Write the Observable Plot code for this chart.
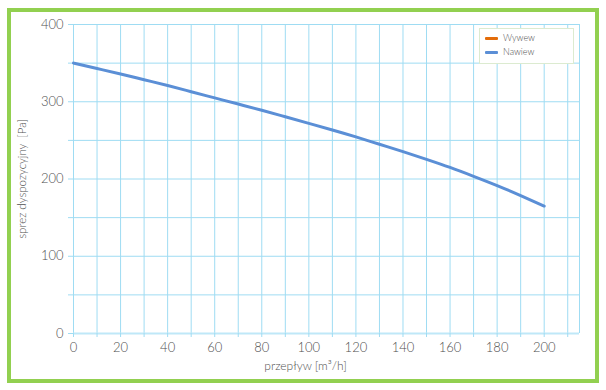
<!DOCTYPE html>
<html>
<head>
<meta charset="utf-8">
<script src="https://cdn.jsdelivr.net/npm/d3@7"></script>
<script src="https://cdn.jsdelivr.net/npm/@observablehq/plot@0.6"></script>
<style>
  html, body { margin: 0; padding: 0; background: #fff; }
  #wrap { position: relative; width: 606px; height: 390px; overflow: hidden; }
  #border { position: absolute; left: 7px; top: 8px; width: 584px; height: 367px; border: 4px solid #92d050; pointer-events: none; }
  #legend { position: absolute; left: 479px; top: 28px; width: 93px; height: 34px; background: #fff; border: 1px solid #dcebd0;
            font-family: Lato, Roboto, sans-serif; font-weight: 300; font-size: 9px; color: #555; }
  .item { position: absolute; left: 5px; height: 12px; line-height: 12px; }
  .sw { display: inline-block; width: 13px; height: 3px; vertical-align: middle; margin-right: 5px; border-radius: 1px; }
  svg text { font-weight: 300; }
</style>
</head>
<body>
<div id="wrap"></div>
<script>
// Data
const flow = [0, 10, 20, 30, 40, 50, 60, 70, 80, 90, 100, 110, 120, 130, 140, 150, 160, 170, 180, 190, 200];
const nawiew = [350, 343, 336, 328.5, 321, 313, 305, 297, 289, 280.5, 272, 263.5, 254.5, 245, 235.5, 225.5, 215, 203.5, 191.5, 178.5, 165];
const seriesNames = ["Wywew", "Nawiew"];
const seriesColors = ["#e36c0a", "#5b8fd6"];
const xTicks = [0, 20, 40, 60, 80, 100, 120, 140, 160, 180, 200];
const xGrid = [0, 10, 20, 30, 40, 50, 60, 70, 80, 90, 100, 110, 120, 130, 140, 150, 160, 170, 180, 190, 200, 210, 215];
const yTicks = [0, 100, 200, 300, 400];
const yGrid = [0, 50, 100, 150, 200, 250, 300, 350, 400];
const xLabel = "przepływ [m³/h]";
const yLabel = "sprez dyspozycyjny  [Pa]";

const data = flow.map((f, i) => ({flow: f, p: nawiew[i]}));
const gridColor = "#9fdcf3";
const font = "Lato, Roboto, sans-serif";
const textColor = "#505050";

const chart = Plot.plot({
  width: 606,
  height: 390,
  marginLeft: 73,
  marginRight: 27,
  marginTop: 24,
  marginBottom: 57,
  style: {fontFamily: font, fontSize: "13px", color: textColor, background: "transparent"},
  x: {domain: [0, 215]},
  y: {domain: [0, 400]},
  marks: [
    Plot.ruleX(xGrid, {stroke: gridColor, strokeWidth: 1}),
    Plot.ruleY(yGrid, {stroke: gridColor, strokeWidth: 1}),
    Plot.ruleY([0], {stroke: "#bfe8f8", strokeWidth: 2}),
    Plot.axisY(yGrid, {tickSize: 5, stroke: gridColor, tickFormat: () => "", label: null}),
    Plot.axisX(xGrid.slice(0, -1), {tickSize: 4, stroke: gridColor, tickFormat: () => "", label: null}),
    Plot.axisY(yTicks, {tickSize: 0, tickPadding: 10, label: null, fontSize: 13}),
    Plot.axisX(xTicks, {tickSize: 0, tickPadding: 9, label: null, fontSize: 13}),
    Plot.text([xLabel], {frameAnchor: "bottom", textAnchor: "middle", dy: 36, dx: -21, fontSize: 12, fill: textColor}),
    Plot.text([yLabel], {frameAnchor: "left", textAnchor: "middle", dx: -51, rotate: -90, fontSize: 11.5, fill: textColor}),
    Plot.line(data, {x: "flow", y: "p", stroke: seriesColors[1], strokeWidth: 3, curve: "natural"})
  ]
});

const wrap = document.getElementById("wrap");
wrap.appendChild(chart);
const border = document.createElement("div");
border.id = "border";
wrap.appendChild(border);
const legend = document.createElement("div");
legend.id = "legend";
seriesNames.forEach((name, i) => {
  const it = document.createElement("div");
  it.className = "item";
  it.style.top = (3 + i * 14) + "px";
  const sw = document.createElement("span");
  sw.className = "sw";
  sw.style.background = seriesColors[i];
  it.appendChild(sw);
  it.appendChild(document.createTextNode(name));
  legend.appendChild(it);
});
wrap.appendChild(legend);
</script>
</body>
</html>
